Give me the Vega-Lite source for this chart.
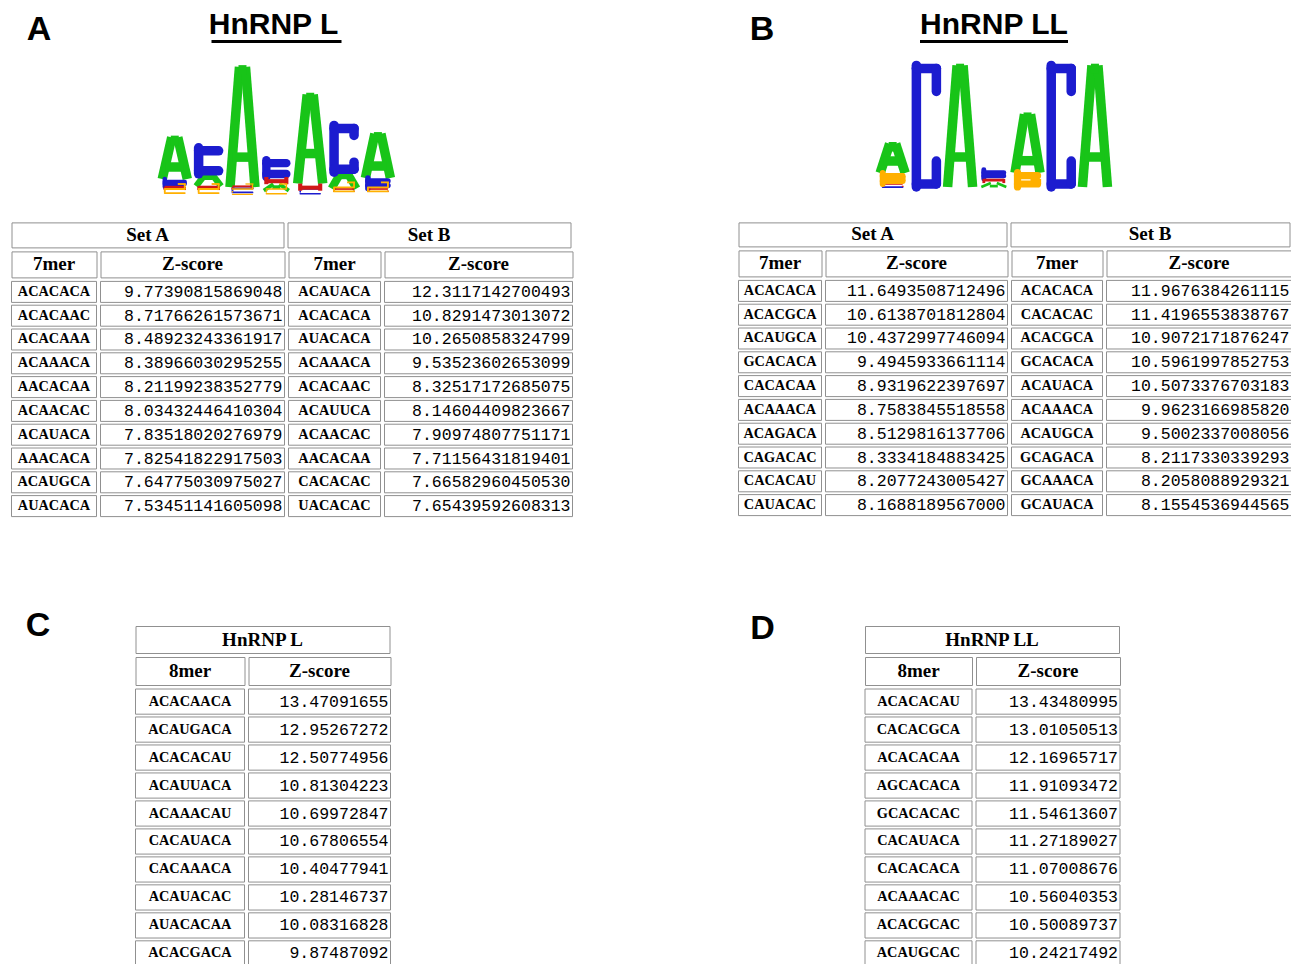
{
"$schema": "https://vega.github.io/schema/vega-lite/v6.json",
"padding": {"left": 10.5, "top": 0, "right": 0, "bottom": 0},
"background": "white",
"config": {"view": {"stroke": null}},
"datasets": {
"logo": [
{"protein":"L","pos":1,"letter":"G","bits":0.03},{"protein":"L","pos":1,"letter":"U","bits":0.05},{"protein":"L","pos":1,"letter":"C","bits":0.12},{"protein":"L","pos":1,"letter":"A","bits":0.64},
{"protein":"L","pos":2,"letter":"G","bits":0.03},{"protein":"L","pos":2,"letter":"U","bits":0.06},{"protein":"L","pos":2,"letter":"A","bits":0.19},{"protein":"L","pos":2,"letter":"C","bits":0.40},
{"protein":"L","pos":3,"letter":"G","bits":0.01},{"protein":"L","pos":3,"letter":"C","bits":0.03},{"protein":"L","pos":3,"letter":"U","bits":0.035},{"protein":"L","pos":3,"letter":"A","bits":1.85},
{"protein":"L","pos":4,"letter":"G","bits":0.02},{"protein":"L","pos":4,"letter":"A","bits":0.10},{"protein":"L","pos":4,"letter":"U","bits":0.11},{"protein":"L","pos":4,"letter":"C","bits":0.26},
{"protein":"L","pos":5,"letter":"C","bits":0.02},{"protein":"L","pos":5,"letter":"U","bits":0.11},{"protein":"L","pos":5,"letter":"A","bits":1.37},
{"protein":"L","pos":6,"letter":"U","bits":0.025},{"protein":"L","pos":6,"letter":"G","bits":0.03},{"protein":"L","pos":6,"letter":"A","bits":0.25},{"protein":"L","pos":6,"letter":"C","bits":0.72},
{"protein":"L","pos":7,"letter":"U","bits":0.025},{"protein":"L","pos":7,"letter":"G","bits":0.03},{"protein":"L","pos":7,"letter":"C","bits":0.16},{"protein":"L","pos":7,"letter":"A","bits":0.68},
{"protein":"LL","pos":1,"letter":"U","bits":0.02},{"protein":"LL","pos":1,"letter":"C","bits":0.025},{"protein":"LL","pos":1,"letter":"G","bits":0.17},{"protein":"LL","pos":1,"letter":"A","bits":0.45},
{"protein":"LL","pos":2,"letter":"C","bits":1.87},
{"protein":"LL","pos":3,"letter":"A","bits":1.87},
{"protein":"LL","pos":4,"letter":"A","bits":0.06},{"protein":"LL","pos":4,"letter":"U","bits":0.065},{"protein":"LL","pos":4,"letter":"C","bits":0.14},
{"protein":"LL","pos":5,"letter":"G","bits":0.22},{"protein":"LL","pos":5,"letter":"A","bits":0.9},
{"protein":"LL","pos":6,"letter":"C","bits":1.87},
{"protein":"LL","pos":7,"letter":"A","bits":1.87}
],
"k7": [
{"protein":"L","set":"A","rank":1,"kmer":"ACACACA","z":"9.77390815869048"},
{"protein":"L","set":"A","rank":2,"kmer":"ACACAAC","z":"8.71766261573671"},
{"protein":"L","set":"A","rank":3,"kmer":"ACACAAA","z":"8.48923243361917"},
{"protein":"L","set":"A","rank":4,"kmer":"ACAAACA","z":"8.38966030295255"},
{"protein":"L","set":"A","rank":5,"kmer":"AACACAA","z":"8.21199238352779"},
{"protein":"L","set":"A","rank":6,"kmer":"ACAACAC","z":"8.03432446410304"},
{"protein":"L","set":"A","rank":7,"kmer":"ACAUACA","z":"7.83518020276979"},
{"protein":"L","set":"A","rank":8,"kmer":"AAACACA","z":"7.82541822917503"},
{"protein":"L","set":"A","rank":9,"kmer":"ACAUGCA","z":"7.64775030975027"},
{"protein":"L","set":"A","rank":10,"kmer":"AUACACA","z":"7.53451141605098"},
{"protein":"L","set":"B","rank":1,"kmer":"ACAUACA","z":"12.3117142700493"},
{"protein":"L","set":"B","rank":2,"kmer":"ACACACA","z":"10.8291473013072"},
{"protein":"L","set":"B","rank":3,"kmer":"AUACACA","z":"10.2650858324799"},
{"protein":"L","set":"B","rank":4,"kmer":"ACAAACA","z":"9.53523602653099"},
{"protein":"L","set":"B","rank":5,"kmer":"ACACAAC","z":"8.32517172685075"},
{"protein":"L","set":"B","rank":6,"kmer":"ACAUUCA","z":"8.14604409823667"},
{"protein":"L","set":"B","rank":7,"kmer":"ACAACAC","z":"7.90974807751171"},
{"protein":"L","set":"B","rank":8,"kmer":"AACACAA","z":"7.71156431819401"},
{"protein":"L","set":"B","rank":9,"kmer":"CACACAC","z":"7.66582960450530"},
{"protein":"L","set":"B","rank":10,"kmer":"UACACAC","z":"7.65439592608313"},
{"protein":"LL","set":"A","rank":1,"kmer":"ACACACA","z":"11.6493508712496"},
{"protein":"LL","set":"A","rank":2,"kmer":"ACACGCA","z":"10.6138701812804"},
{"protein":"LL","set":"A","rank":3,"kmer":"ACAUGCA","z":"10.4372997746094"},
{"protein":"LL","set":"A","rank":4,"kmer":"GCACACA","z":"9.4945933661114"},
{"protein":"LL","set":"A","rank":5,"kmer":"CACACAA","z":"8.9319622397697"},
{"protein":"LL","set":"A","rank":6,"kmer":"ACAAACA","z":"8.7583845518558"},
{"protein":"LL","set":"A","rank":7,"kmer":"ACAGACA","z":"8.5129816137706"},
{"protein":"LL","set":"A","rank":8,"kmer":"CAGACAC","z":"8.3334184883425"},
{"protein":"LL","set":"A","rank":9,"kmer":"CACACAU","z":"8.2077243005427"},
{"protein":"LL","set":"A","rank":10,"kmer":"CAUACAC","z":"8.1688189567000"},
{"protein":"LL","set":"B","rank":1,"kmer":"ACACACA","z":"11.9676384261115"},
{"protein":"LL","set":"B","rank":2,"kmer":"CACACAC","z":"11.4196553838767"},
{"protein":"LL","set":"B","rank":3,"kmer":"ACACGCA","z":"10.9072171876247"},
{"protein":"LL","set":"B","rank":4,"kmer":"GCACACA","z":"10.5961997852753"},
{"protein":"LL","set":"B","rank":5,"kmer":"ACAUACA","z":"10.5073376703183"},
{"protein":"LL","set":"B","rank":6,"kmer":"ACAAACA","z":"9.9623166985820"},
{"protein":"LL","set":"B","rank":7,"kmer":"ACAUGCA","z":"9.5002337008056"},
{"protein":"LL","set":"B","rank":8,"kmer":"GCAGACA","z":"8.2117330339293"},
{"protein":"LL","set":"B","rank":9,"kmer":"GCAAACA","z":"8.2058088929321"},
{"protein":"LL","set":"B","rank":10,"kmer":"GCAUACA","z":"8.1554536944565"}
],
"k8": [
{"protein":"L","rank":1,"kmer":"ACACAACA","z":"13.47091655"},
{"protein":"L","rank":2,"kmer":"ACAUGACA","z":"12.95267272"},
{"protein":"L","rank":3,"kmer":"ACACACAU","z":"12.50774956"},
{"protein":"L","rank":4,"kmer":"ACAUUACA","z":"10.81304223"},
{"protein":"L","rank":5,"kmer":"ACAAACAU","z":"10.69972847"},
{"protein":"L","rank":6,"kmer":"CACAUACA","z":"10.67806554"},
{"protein":"L","rank":7,"kmer":"CACAAACA","z":"10.40477941"},
{"protein":"L","rank":8,"kmer":"ACAUACAC","z":"10.28146737"},
{"protein":"L","rank":9,"kmer":"AUACACAA","z":"10.08316828"},
{"protein":"L","rank":10,"kmer":"ACACGACA","z":"9.87487092"},
{"protein":"LL","rank":1,"kmer":"ACACACAU","z":"13.43480995"},
{"protein":"LL","rank":2,"kmer":"CACACGCA","z":"13.01050513"},
{"protein":"LL","rank":3,"kmer":"ACACACAA","z":"12.16965717"},
{"protein":"LL","rank":4,"kmer":"AGCACACA","z":"11.91093472"},
{"protein":"LL","rank":5,"kmer":"GCACACAC","z":"11.54613607"},
{"protein":"LL","rank":6,"kmer":"CACAUACA","z":"11.27189027"},
{"protein":"LL","rank":7,"kmer":"CACACACA","z":"11.07008676"},
{"protein":"LL","rank":8,"kmer":"ACAAACAC","z":"10.56040353"},
{"protein":"LL","rank":9,"kmer":"ACACGCAC","z":"10.50089737"},
{"protein":"LL","rank":10,"kmer":"ACAUGCAC","z":"10.24217492"}
]
},
"vconcat": [
{"hconcat": [
 {"vconcat": [
  {"hconcat": [
   {"width": 55, "height": 47, "data": {"values": [{"panel": "A"}]}, "mark": {"type": "text", "font": "Liberation Sans", "fontWeight": "bold", "fontSize": 34, "baseline": "bottom", "color": "#000"}, "encoding": {"text": {"field": "panel"}, "y": {"value": "height"}}},
   {"vconcat": [
    {"vconcat": [
     {"width": 237, "height": 40, "data": {"values": [{"name": "HnRNP L"}]}, "mark": {"type": "text", "font": "Liberation Sans", "fontWeight": "bold", "fontSize": 30, "baseline": "bottom", "color": "#000", "dx": -3}, "encoding": {"text": {"field": "name"}, "y": {"value": "height"}}},
     {"width": 130, "height": 3, "view": {"fill": "#000", "stroke": null}, "data": {"values": []}, "mark": "rect", "encoding": {}}
    ], "spacing": 0, "center": true},
    {"width": 237, "height": 132.6, "data": {"name": "logo"},
     "transform": [{"filter": "datum.protein === 'L'"}, {"stack": "bits", "groupby": ["pos"], "sort": [{"field": "bits", "order": "ascending"}], "as": ["b0", "b1"]}],
     "encoding": {"x": {"field": "pos", "type": "quantitative", "scale": {"domain": [0.5, 7.5]}, "axis": null},
                  "strokeWidth": {"field": "bits", "type": "quantitative", "scale": {"domain": [0, 0.3], "range": [1, 9.5], "clamp": true}, "legend": null}},
     "layer": [
      {"transform": [{"filter": "datum.letter === 'A'"}], "mark": {"type": "rule", "color": "#18c418", "xOffset": -12.5, "x2Offset": -3}, "encoding": {"x2": {"field": "pos"}, "y": {"field": "b0", "type": "quantitative", "scale": {"domain": [-0.04, 2]}, "axis": null}, "y2": {"field": "b1"}}},
      {"transform": [{"filter": "datum.letter === 'A'"}], "mark": {"type": "rule", "color": "#18c418", "xOffset": 3, "x2Offset": 12.5}, "encoding": {"x2": {"field": "pos"}, "y": {"field": "b1", "type": "quantitative", "scale": {"domain": [-0.04, 2]}, "axis": null}, "y2": {"field": "b0"}}},
      {"transform": [{"filter": "datum.letter === 'A'"}], "mark": {"type": "rule", "color": "#18c418", "xOffset": -4, "x2Offset": 4, "yOffset": 3}, "encoding": {"x2": {"field": "pos"}, "y": {"field": "b1", "type": "quantitative", "scale": {"domain": [-0.04, 2]}, "axis": null}}},
      {"transform": [{"filter": "datum.letter === 'A' && datum.bits > 0.3 && datum.bits <= 1"}], "mark": {"type": "rule", "color": "#18c418", "xOffset": -9, "x2Offset": 9, "yOffset": -12}, "encoding": {"x2": {"field": "pos"}, "y": {"field": "b0", "type": "quantitative", "scale": {"domain": [-0.04, 2]}, "axis": null}}},
      {"transform": [{"filter": "datum.letter === 'A' && datum.bits > 1"}], "mark": {"type": "rule", "color": "#18c418", "xOffset": -10, "x2Offset": 10, "yOffset": -30}, "encoding": {"x2": {"field": "pos"}, "y": {"field": "b0", "type": "quantitative", "scale": {"domain": [-0.04, 2]}, "axis": null}}},
      {"transform": [{"filter": "datum.letter === 'C'"}], "mark": {"type": "rule", "color": "#1c1ccf", "xOffset": -10, "strokeCap": "round"}, "encoding": {"y": {"field": "b0", "type": "quantitative", "scale": {"domain": [-0.04, 2]}, "axis": null}, "y2": {"field": "b1"}}},
      {"transform": [{"filter": "datum.letter === 'C'"}], "mark": {"type": "rule", "color": "#1c1ccf", "xOffset": -10, "x2Offset": 10, "yOffset": 3, "strokeCap": "round"}, "encoding": {"x2": {"field": "pos"}, "y": {"field": "b1", "type": "quantitative", "scale": {"domain": [-0.04, 2]}, "axis": null}}},
      {"transform": [{"filter": "datum.letter === 'C'"}], "mark": {"type": "rule", "color": "#1c1ccf", "xOffset": -10, "x2Offset": 10, "yOffset": -3, "strokeCap": "round"}, "encoding": {"x2": {"field": "pos"}, "y": {"field": "b0", "type": "quantitative", "scale": {"domain": [-0.04, 2]}, "axis": null}}},
      {"transform": [{"filter": "datum.letter === 'C' && datum.bits > 0.6 && datum.bits <= 1"}], "mark": {"type": "rule", "color": "#1c1ccf", "xOffset": 10, "yOffset": 3, "y2Offset": 10, "strokeCap": "round"}, "encoding": {"y": {"field": "b1", "type": "quantitative", "scale": {"domain": [-0.04, 2]}, "axis": null}, "y2": {"field": "b1"}}},
      {"transform": [{"filter": "datum.letter === 'C' && datum.bits > 0.6 && datum.bits <= 1"}], "mark": {"type": "rule", "color": "#1c1ccf", "xOffset": 10, "yOffset": -3, "y2Offset": -10, "strokeCap": "round"}, "encoding": {"y": {"field": "b0", "type": "quantitative", "scale": {"domain": [-0.04, 2]}, "axis": null}, "y2": {"field": "b0"}}},
      {"transform": [{"filter": "datum.letter === 'C' && datum.bits > 1"}], "mark": {"type": "rule", "color": "#1c1ccf", "xOffset": 10, "yOffset": 3, "y2Offset": 26, "strokeCap": "round"}, "encoding": {"y": {"field": "b1", "type": "quantitative", "scale": {"domain": [-0.04, 2]}, "axis": null}, "y2": {"field": "b1"}}},
      {"transform": [{"filter": "datum.letter === 'C' && datum.bits > 1"}], "mark": {"type": "rule", "color": "#1c1ccf", "xOffset": 10, "yOffset": -3, "y2Offset": -26, "strokeCap": "round"}, "encoding": {"y": {"field": "b0", "type": "quantitative", "scale": {"domain": [-0.04, 2]}, "axis": null}, "y2": {"field": "b0"}}},
      {"transform": [{"filter": "datum.letter === 'U'"}], "mark": {"type": "rule", "color": "#d01818", "xOffset": -10}, "encoding": {"y": {"field": "b0", "type": "quantitative", "scale": {"domain": [-0.04, 2]}, "axis": null}, "y2": {"field": "b1"}}},
      {"transform": [{"filter": "datum.letter === 'U'"}], "mark": {"type": "rule", "color": "#d01818", "xOffset": 10}, "encoding": {"y": {"field": "b0", "type": "quantitative", "scale": {"domain": [-0.04, 2]}, "axis": null}, "y2": {"field": "b1"}}},
      {"transform": [{"filter": "datum.letter === 'U'"}], "mark": {"type": "rule", "color": "#d01818", "xOffset": -10, "x2Offset": 10, "yOffset": -3}, "encoding": {"x2": {"field": "pos"}, "y": {"field": "b0", "type": "quantitative", "scale": {"domain": [-0.04, 2]}, "axis": null}}},
      {"transform": [{"filter": "datum.letter === 'G'"}], "mark": {"type": "rule", "color": "#ffb000", "xOffset": -10, "strokeCap": "round"}, "encoding": {"y": {"field": "b0", "type": "quantitative", "scale": {"domain": [-0.04, 2]}, "axis": null}, "y2": {"field": "b1"}}},
      {"transform": [{"filter": "datum.letter === 'G'"}], "mark": {"type": "rule", "color": "#ffb000", "xOffset": -10, "x2Offset": 10, "yOffset": 3, "strokeCap": "round"}, "encoding": {"x2": {"field": "pos"}, "y": {"field": "b1", "type": "quantitative", "scale": {"domain": [-0.04, 2]}, "axis": null}}},
      {"transform": [{"filter": "datum.letter === 'G'"}], "mark": {"type": "rule", "color": "#ffb000", "xOffset": -10, "x2Offset": 10, "yOffset": -3, "strokeCap": "round"}, "encoding": {"x2": {"field": "pos"}, "y": {"field": "b0", "type": "quantitative", "scale": {"domain": [-0.04, 2]}, "axis": null}}},
      {"transform": [{"filter": "datum.letter === 'G'"}], "mark": {"type": "rule", "color": "#ffb000", "xOffset": 10, "yOffset": -3, "y2Offset": -8}, "encoding": {"y": {"field": "b0", "type": "quantitative", "scale": {"domain": [-0.04, 2]}, "axis": null}, "y2": {"field": "b0"}}},
      {"transform": [{"filter": "datum.letter === 'G'"}], "mark": {"type": "rule", "color": "#ffb000", "xOffset": 3, "x2Offset": 11, "yOffset": -8}, "encoding": {"x2": {"field": "pos"}, "y": {"field": "b0", "type": "quantitative", "scale": {"domain": [-0.04, 2]}, "axis": null}}}
     ]}
   ], "spacing": 19, "center": true}
  ], "spacing": 91},
  {"vconcat": [
   {"hconcat": [
    {"width": 272, "height": 25, "view": {"fill": "#fff", "stroke": "#909090"}, "data": {"values": [{"h": "Set A"}]}, "mark": {"type": "text", "font": "Liberation Serif", "fontWeight": "bold", "fontSize": 19, "color": "#000"}, "encoding": {"text": {"field": "h"}}},
    {"width": 283, "height": 25, "view": {"fill": "#fff", "stroke": "#909090"}, "data": {"values": [{"h": "Set B"}]}, "mark": {"type": "text", "font": "Liberation Serif", "fontWeight": "bold", "fontSize": 19, "color": "#000"}, "encoding": {"text": {"field": "h"}}}
   ], "spacing": 2},
   {"hconcat": [
    {"width": 85, "height": 26, "view": {"fill": "#fff", "stroke": "#909090"}, "data": {"values": [{"h": "7mer"}]}, "mark": {"type": "text", "font": "Liberation Serif", "fontWeight": "bold", "fontSize": 19, "color": "#000"}, "encoding": {"text": {"field": "h"}}},
    {"width": 184, "height": 26, "view": {"fill": "#fff", "stroke": "#909090"}, "data": {"values": [{"h": "Z-score"}]}, "mark": {"type": "text", "font": "Liberation Serif", "fontWeight": "bold", "fontSize": 19, "color": "#000"}, "encoding": {"text": {"field": "h"}}},
    {"width": 92, "height": 26, "view": {"fill": "#fff", "stroke": "#909090"}, "data": {"values": [{"h": "7mer"}]}, "mark": {"type": "text", "font": "Liberation Serif", "fontWeight": "bold", "fontSize": 19, "color": "#000"}, "encoding": {"text": {"field": "h"}}},
    {"width": 188, "height": 26, "view": {"fill": "#fff", "stroke": "#909090"}, "data": {"values": [{"h": "Z-score"}]}, "mark": {"type": "text", "font": "Liberation Serif", "fontWeight": "bold", "fontSize": 19, "color": "#000"}, "encoding": {"text": {"field": "h"}}}
   ], "spacing": 2},
   {"hconcat": [
    {"width": 85, "height": 235.2, "data": {"name": "k7"}, "transform": [{"filter": "datum.protein === 'L' && datum.set === 'A'"}],
     "encoding": {"y": {"field": "rank", "type": "ordinal", "axis": null, "scale": {"type": "band", "paddingInner": 0.118, "paddingOuter": 0}}},
     "layer": [{"mark": {"type": "rect", "fill": "#fff", "stroke": "#909090", "strokeWidth": 1}},
               {"mark": {"type": "text", "font": "Liberation Serif", "fontWeight": "bold", "fontSize": 14.3, "color": "#000"}, "encoding": {"text": {"field": "kmer"}}}]},
    {"width": 184, "height": 235.2, "data": {"name": "k7"}, "transform": [{"filter": "datum.protein === 'L' && datum.set === 'A'"}],
     "encoding": {"y": {"field": "rank", "type": "ordinal", "axis": null, "scale": {"type": "band", "paddingInner": 0.118, "paddingOuter": 0}}},
     "layer": [{"mark": {"type": "rect", "fill": "#fff", "stroke": "#909090", "strokeWidth": 1}},
               {"mark": {"type": "text", "font": "Liberation Mono", "fontSize": 16.5, "align": "right", "dx": -2, "color": "#000"}, "encoding": {"text": {"field": "z"}, "x": {"value": "width"}}}]},
    {"width": 92, "height": 235.2, "data": {"name": "k7"}, "transform": [{"filter": "datum.protein === 'L' && datum.set === 'B'"}],
     "encoding": {"y": {"field": "rank", "type": "ordinal", "axis": null, "scale": {"type": "band", "paddingInner": 0.118, "paddingOuter": 0}}},
     "layer": [{"mark": {"type": "rect", "fill": "#fff", "stroke": "#909090", "strokeWidth": 1}},
               {"mark": {"type": "text", "font": "Liberation Serif", "fontWeight": "bold", "fontSize": 14.3, "color": "#000"}, "encoding": {"text": {"field": "kmer"}}}]},
    {"width": 188, "height": 235.2, "data": {"name": "k7"}, "transform": [{"filter": "datum.protein === 'L' && datum.set === 'B'"}],
     "encoding": {"y": {"field": "rank", "type": "ordinal", "axis": null, "scale": {"type": "band", "paddingInner": 0.118, "paddingOuter": 0}}},
     "layer": [{"mark": {"type": "rect", "fill": "#fff", "stroke": "#909090", "strokeWidth": 1}},
               {"mark": {"type": "text", "font": "Liberation Mono", "fontSize": 16.5, "align": "right", "dx": -2, "color": "#000"}, "encoding": {"text": {"field": "z"}, "x": {"value": "width"}}}]}
   ], "spacing": 2}
  ], "spacing": 2}
 ], "spacing": 26.4},
 {"vconcat": [
  {"hconcat": [
   {"width": 47, "height": 47, "data": {"values": [{"panel": "B"}]}, "mark": {"type": "text", "font": "Liberation Sans", "fontWeight": "bold", "fontSize": 34, "baseline": "bottom", "color": "#000"}, "encoding": {"text": {"field": "panel"}, "y": {"value": "height"}}},
   {"vconcat": [
    {"vconcat": [
     {"width": 236, "height": 40, "data": {"values": [{"name": "HnRNP LL"}]}, "mark": {"type": "text", "font": "Liberation Sans", "fontWeight": "bold", "fontSize": 30, "baseline": "bottom", "color": "#000"}, "encoding": {"text": {"field": "name"}, "y": {"value": "height"}}},
     {"width": 148, "height": 3, "view": {"fill": "#000", "stroke": null}, "data": {"values": []}, "mark": "rect", "encoding": {}}
    ], "spacing": 0, "center": true},
    {"width": 236, "height": 132.6, "data": {"name": "logo"},
     "transform": [{"filter": "datum.protein === 'LL'"}, {"stack": "bits", "groupby": ["pos"], "sort": [{"field": "bits", "order": "ascending"}], "as": ["b0", "b1"]}],
     "encoding": {"x": {"field": "pos", "type": "quantitative", "scale": {"domain": [0.5, 7.5]}, "axis": null},
                  "strokeWidth": {"field": "bits", "type": "quantitative", "scale": {"domain": [0, 0.3], "range": [1, 9.5], "clamp": true}, "legend": null}},
     "layer": [
      {"transform": [{"filter": "datum.letter === 'A'"}], "mark": {"type": "rule", "color": "#18c418", "xOffset": -12.5, "x2Offset": -3}, "encoding": {"x2": {"field": "pos"}, "y": {"field": "b0", "type": "quantitative", "scale": {"domain": [-0.04, 2]}, "axis": null}, "y2": {"field": "b1"}}},
      {"transform": [{"filter": "datum.letter === 'A'"}], "mark": {"type": "rule", "color": "#18c418", "xOffset": 3, "x2Offset": 12.5}, "encoding": {"x2": {"field": "pos"}, "y": {"field": "b1", "type": "quantitative", "scale": {"domain": [-0.04, 2]}, "axis": null}, "y2": {"field": "b0"}}},
      {"transform": [{"filter": "datum.letter === 'A'"}], "mark": {"type": "rule", "color": "#18c418", "xOffset": -4, "x2Offset": 4, "yOffset": 3}, "encoding": {"x2": {"field": "pos"}, "y": {"field": "b1", "type": "quantitative", "scale": {"domain": [-0.04, 2]}, "axis": null}}},
      {"transform": [{"filter": "datum.letter === 'A' && datum.bits > 0.3 && datum.bits <= 1"}], "mark": {"type": "rule", "color": "#18c418", "xOffset": -9, "x2Offset": 9, "yOffset": -12}, "encoding": {"x2": {"field": "pos"}, "y": {"field": "b0", "type": "quantitative", "scale": {"domain": [-0.04, 2]}, "axis": null}}},
      {"transform": [{"filter": "datum.letter === 'A' && datum.bits > 1"}], "mark": {"type": "rule", "color": "#18c418", "xOffset": -10, "x2Offset": 10, "yOffset": -30}, "encoding": {"x2": {"field": "pos"}, "y": {"field": "b0", "type": "quantitative", "scale": {"domain": [-0.04, 2]}, "axis": null}}},
      {"transform": [{"filter": "datum.letter === 'C'"}], "mark": {"type": "rule", "color": "#1c1ccf", "xOffset": -10, "strokeCap": "round"}, "encoding": {"y": {"field": "b0", "type": "quantitative", "scale": {"domain": [-0.04, 2]}, "axis": null}, "y2": {"field": "b1"}}},
      {"transform": [{"filter": "datum.letter === 'C'"}], "mark": {"type": "rule", "color": "#1c1ccf", "xOffset": -10, "x2Offset": 10, "yOffset": 3, "strokeCap": "round"}, "encoding": {"x2": {"field": "pos"}, "y": {"field": "b1", "type": "quantitative", "scale": {"domain": [-0.04, 2]}, "axis": null}}},
      {"transform": [{"filter": "datum.letter === 'C'"}], "mark": {"type": "rule", "color": "#1c1ccf", "xOffset": -10, "x2Offset": 10, "yOffset": -3, "strokeCap": "round"}, "encoding": {"x2": {"field": "pos"}, "y": {"field": "b0", "type": "quantitative", "scale": {"domain": [-0.04, 2]}, "axis": null}}},
      {"transform": [{"filter": "datum.letter === 'C' && datum.bits > 0.6 && datum.bits <= 1"}], "mark": {"type": "rule", "color": "#1c1ccf", "xOffset": 10, "yOffset": 3, "y2Offset": 10, "strokeCap": "round"}, "encoding": {"y": {"field": "b1", "type": "quantitative", "scale": {"domain": [-0.04, 2]}, "axis": null}, "y2": {"field": "b1"}}},
      {"transform": [{"filter": "datum.letter === 'C' && datum.bits > 0.6 && datum.bits <= 1"}], "mark": {"type": "rule", "color": "#1c1ccf", "xOffset": 10, "yOffset": -3, "y2Offset": -10, "strokeCap": "round"}, "encoding": {"y": {"field": "b0", "type": "quantitative", "scale": {"domain": [-0.04, 2]}, "axis": null}, "y2": {"field": "b0"}}},
      {"transform": [{"filter": "datum.letter === 'C' && datum.bits > 1"}], "mark": {"type": "rule", "color": "#1c1ccf", "xOffset": 10, "yOffset": 3, "y2Offset": 26, "strokeCap": "round"}, "encoding": {"y": {"field": "b1", "type": "quantitative", "scale": {"domain": [-0.04, 2]}, "axis": null}, "y2": {"field": "b1"}}},
      {"transform": [{"filter": "datum.letter === 'C' && datum.bits > 1"}], "mark": {"type": "rule", "color": "#1c1ccf", "xOffset": 10, "yOffset": -3, "y2Offset": -26, "strokeCap": "round"}, "encoding": {"y": {"field": "b0", "type": "quantitative", "scale": {"domain": [-0.04, 2]}, "axis": null}, "y2": {"field": "b0"}}},
      {"transform": [{"filter": "datum.letter === 'U'"}], "mark": {"type": "rule", "color": "#d01818", "xOffset": -10}, "encoding": {"y": {"field": "b0", "type": "quantitative", "scale": {"domain": [-0.04, 2]}, "axis": null}, "y2": {"field": "b1"}}},
      {"transform": [{"filter": "datum.letter === 'U'"}], "mark": {"type": "rule", "color": "#d01818", "xOffset": 10}, "encoding": {"y": {"field": "b0", "type": "quantitative", "scale": {"domain": [-0.04, 2]}, "axis": null}, "y2": {"field": "b1"}}},
      {"transform": [{"filter": "datum.letter === 'U'"}], "mark": {"type": "rule", "color": "#d01818", "xOffset": -10, "x2Offset": 10, "yOffset": -3}, "encoding": {"x2": {"field": "pos"}, "y": {"field": "b0", "type": "quantitative", "scale": {"domain": [-0.04, 2]}, "axis": null}}},
      {"transform": [{"filter": "datum.letter === 'G'"}], "mark": {"type": "rule", "color": "#ffb000", "xOffset": -10, "strokeCap": "round"}, "encoding": {"y": {"field": "b0", "type": "quantitative", "scale": {"domain": [-0.04, 2]}, "axis": null}, "y2": {"field": "b1"}}},
      {"transform": [{"filter": "datum.letter === 'G'"}], "mark": {"type": "rule", "color": "#ffb000", "xOffset": -10, "x2Offset": 10, "yOffset": 3, "strokeCap": "round"}, "encoding": {"x2": {"field": "pos"}, "y": {"field": "b1", "type": "quantitative", "scale": {"domain": [-0.04, 2]}, "axis": null}}},
      {"transform": [{"filter": "datum.letter === 'G'"}], "mark": {"type": "rule", "color": "#ffb000", "xOffset": -10, "x2Offset": 10, "yOffset": -3, "strokeCap": "round"}, "encoding": {"x2": {"field": "pos"}, "y": {"field": "b0", "type": "quantitative", "scale": {"domain": [-0.04, 2]}, "axis": null}}},
      {"transform": [{"filter": "datum.letter === 'G'"}], "mark": {"type": "rule", "color": "#ffb000", "xOffset": 10, "yOffset": -3, "y2Offset": -8}, "encoding": {"y": {"field": "b0", "type": "quantitative", "scale": {"domain": [-0.04, 2]}, "axis": null}, "y2": {"field": "b0"}}},
      {"transform": [{"filter": "datum.letter === 'G'"}], "mark": {"type": "rule", "color": "#ffb000", "xOffset": 3, "x2Offset": 11, "yOffset": -8}, "encoding": {"x2": {"field": "pos"}, "y": {"field": "b0", "type": "quantitative", "scale": {"domain": [-0.04, 2]}, "axis": null}}}
     ]}
   ], "spacing": 14, "center": true}
  ], "spacing": 89},
  {"vconcat": [
   {"hconcat": [
    {"width": 268, "height": 24, "view": {"fill": "#fff", "stroke": "#909090"}, "data": {"values": [{"h": "Set A"}]}, "mark": {"type": "text", "font": "Liberation Serif", "fontWeight": "bold", "fontSize": 19, "color": "#000"}, "encoding": {"text": {"field": "h"}}},
    {"width": 279, "height": 24, "view": {"fill": "#fff", "stroke": "#909090"}, "data": {"values": [{"h": "Set B"}]}, "mark": {"type": "text", "font": "Liberation Serif", "fontWeight": "bold", "fontSize": 19, "color": "#000"}, "encoding": {"text": {"field": "h"}}}
   ], "spacing": 2},
   {"hconcat": [
    {"width": 83, "height": 26, "view": {"fill": "#fff", "stroke": "#909090"}, "data": {"values": [{"h": "7mer"}]}, "mark": {"type": "text", "font": "Liberation Serif", "fontWeight": "bold", "fontSize": 19, "color": "#000"}, "encoding": {"text": {"field": "h"}}},
    {"width": 182, "height": 26, "view": {"fill": "#fff", "stroke": "#909090"}, "data": {"values": [{"h": "Z-score"}]}, "mark": {"type": "text", "font": "Liberation Serif", "fontWeight": "bold", "fontSize": 19, "color": "#000"}, "encoding": {"text": {"field": "h"}}},
    {"width": 91, "height": 26, "view": {"fill": "#fff", "stroke": "#909090"}, "data": {"values": [{"h": "7mer"}]}, "mark": {"type": "text", "font": "Liberation Serif", "fontWeight": "bold", "fontSize": 19, "color": "#000"}, "encoding": {"text": {"field": "h"}}},
    {"width": 185, "height": 26, "view": {"fill": "#fff", "stroke": "#909090"}, "data": {"values": [{"h": "Z-score"}]}, "mark": {"type": "text", "font": "Liberation Serif", "fontWeight": "bold", "fontSize": 19, "color": "#000"}, "encoding": {"text": {"field": "h"}}}
   ], "spacing": 2},
   {"hconcat": [
    {"width": 83, "height": 235.2, "data": {"name": "k7"}, "transform": [{"filter": "datum.protein === 'LL' && datum.set === 'A'"}],
     "encoding": {"y": {"field": "rank", "type": "ordinal", "axis": null, "scale": {"type": "band", "paddingInner": 0.118, "paddingOuter": 0}}},
     "layer": [{"mark": {"type": "rect", "fill": "#fff", "stroke": "#909090", "strokeWidth": 1}},
               {"mark": {"type": "text", "font": "Liberation Serif", "fontWeight": "bold", "fontSize": 14.3, "color": "#000"}, "encoding": {"text": {"field": "kmer"}}}]},
    {"width": 182, "height": 235.2, "data": {"name": "k7"}, "transform": [{"filter": "datum.protein === 'LL' && datum.set === 'A'"}],
     "encoding": {"y": {"field": "rank", "type": "ordinal", "axis": null, "scale": {"type": "band", "paddingInner": 0.118, "paddingOuter": 0}}},
     "layer": [{"mark": {"type": "rect", "fill": "#fff", "stroke": "#909090", "strokeWidth": 1}},
               {"mark": {"type": "text", "font": "Liberation Mono", "fontSize": 16.5, "align": "right", "dx": -2, "color": "#000"}, "encoding": {"text": {"field": "z"}, "x": {"value": "width"}}}]},
    {"width": 91, "height": 235.2, "data": {"name": "k7"}, "transform": [{"filter": "datum.protein === 'LL' && datum.set === 'B'"}],
     "encoding": {"y": {"field": "rank", "type": "ordinal", "axis": null, "scale": {"type": "band", "paddingInner": 0.118, "paddingOuter": 0}}},
     "layer": [{"mark": {"type": "rect", "fill": "#fff", "stroke": "#909090", "strokeWidth": 1}},
               {"mark": {"type": "text", "font": "Liberation Serif", "fontWeight": "bold", "fontSize": 14.3, "color": "#000"}, "encoding": {"text": {"field": "kmer"}}}]},
    {"width": 185, "height": 235.2, "data": {"name": "k7"}, "transform": [{"filter": "datum.protein === 'LL' && datum.set === 'B'"}],
     "encoding": {"y": {"field": "rank", "type": "ordinal", "axis": null, "scale": {"type": "band", "paddingInner": 0.118, "paddingOuter": 0}}},
     "layer": [{"mark": {"type": "rect", "fill": "#fff", "stroke": "#909090", "strokeWidth": 1}},
               {"mark": {"type": "text", "font": "Liberation Mono", "fontSize": 16.5, "align": "right", "dx": -2, "color": "#000"}, "encoding": {"text": {"field": "z"}, "x": {"value": "width"}}}]}
   ], "spacing": 2}
  ], "spacing": 2}
 ], "spacing": 29.4}
], "spacing": 164},
{"hconcat": [
 {"hconcat": [
  {"width": 53, "height": 36, "data": {"values": [{"panel": "C"}]}, "mark": {"type": "text", "font": "Liberation Sans", "fontWeight": "bold", "fontSize": 34, "baseline": "bottom", "color": "#000"}, "encoding": {"text": {"field": "panel"}, "y": {"value": "height"}}},
  {"vconcat": [
   {"width": 254, "height": 15.5, "data": {"values": []}, "mark": "rect", "encoding": {}},
   {"width": 254, "height": 27, "view": {"fill": "#fff", "stroke": "#909090"}, "data": {"values": [{"h": "HnRNP L"}]}, "mark": {"type": "text", "font": "Liberation Serif", "fontWeight": "bold", "fontSize": 19, "color": "#000"}, "encoding": {"text": {"field": "h"}}},
   {"hconcat": [
    {"width": 109, "height": 28, "view": {"fill": "#fff", "stroke": "#909090"}, "data": {"values": [{"h": "8mer"}]}, "mark": {"type": "text", "font": "Liberation Serif", "fontWeight": "bold", "fontSize": 19, "color": "#000"}, "encoding": {"text": {"field": "h"}}},
    {"width": 142, "height": 28, "view": {"fill": "#fff", "stroke": "#909090"}, "data": {"values": [{"h": "Z-score"}]}, "mark": {"type": "text", "font": "Liberation Serif", "fontWeight": "bold", "fontSize": 19, "color": "#000"}, "encoding": {"text": {"field": "h"}}}
   ], "spacing": 2},
   {"hconcat": [
    {"width": 109, "height": 277, "data": {"name": "k8"}, "transform": [{"filter": "datum.protein === 'L'"}],
     "encoding": {"y": {"field": "rank", "type": "ordinal", "axis": null, "scale": {"type": "band", "paddingInner": 0.1, "paddingOuter": 0}}},
     "layer": [{"mark": {"type": "rect", "fill": "#fff", "stroke": "#909090", "strokeWidth": 1}},
               {"mark": {"type": "text", "font": "Liberation Serif", "fontWeight": "bold", "fontSize": 14.3, "color": "#000"}, "encoding": {"text": {"field": "kmer"}}}]},
    {"width": 142, "height": 277, "data": {"name": "k8"}, "transform": [{"filter": "datum.protein === 'L'"}],
     "encoding": {"y": {"field": "rank", "type": "ordinal", "axis": null, "scale": {"type": "band", "paddingInner": 0.1, "paddingOuter": 0}}},
     "layer": [{"mark": {"type": "rect", "fill": "#fff", "stroke": "#909090", "strokeWidth": 1}},
               {"mark": {"type": "text", "font": "Liberation Mono", "fontSize": 16.5, "align": "right", "dx": -2, "color": "#000"}, "encoding": {"text": {"field": "z"}, "x": {"value": "width"}}}]}
   ], "spacing": 2}
  ], "spacing": 2}
 ], "spacing": 70},
 {"hconcat": [
  {"width": 47, "height": 39, "data": {"values": [{"panel": "D"}]}, "mark": {"type": "text", "font": "Liberation Sans", "fontWeight": "bold", "fontSize": 34, "baseline": "bottom", "color": "#000"}, "encoding": {"text": {"field": "panel"}, "y": {"value": "height"}}},
  {"vconcat": [
   {"width": 254, "height": 15.5, "data": {"values": []}, "mark": "rect", "encoding": {}},
   {"width": 254, "height": 27, "view": {"fill": "#fff", "stroke": "#909090"}, "data": {"values": [{"h": "HnRNP LL"}]}, "mark": {"type": "text", "font": "Liberation Serif", "fontWeight": "bold", "fontSize": 19, "color": "#000"}, "encoding": {"text": {"field": "h"}}},
   {"hconcat": [
    {"width": 107, "height": 28, "view": {"fill": "#fff", "stroke": "#909090"}, "data": {"values": [{"h": "8mer"}]}, "mark": {"type": "text", "font": "Liberation Serif", "fontWeight": "bold", "fontSize": 19, "color": "#000"}, "encoding": {"text": {"field": "h"}}},
    {"width": 144, "height": 28, "view": {"fill": "#fff", "stroke": "#909090"}, "data": {"values": [{"h": "Z-score"}]}, "mark": {"type": "text", "font": "Liberation Serif", "fontWeight": "bold", "fontSize": 19, "color": "#000"}, "encoding": {"text": {"field": "h"}}}
   ], "spacing": 2},
   {"hconcat": [
    {"width": 107, "height": 277, "data": {"name": "k8"}, "transform": [{"filter": "datum.protein === 'LL'"}],
     "encoding": {"y": {"field": "rank", "type": "ordinal", "axis": null, "scale": {"type": "band", "paddingInner": 0.1, "paddingOuter": 0}}},
     "layer": [{"mark": {"type": "rect", "fill": "#fff", "stroke": "#909090", "strokeWidth": 1}},
               {"mark": {"type": "text", "font": "Liberation Serif", "fontWeight": "bold", "fontSize": 14.3, "color": "#000"}, "encoding": {"text": {"field": "kmer"}}}]},
    {"width": 144, "height": 277, "data": {"name": "k8"}, "transform": [{"filter": "datum.protein === 'LL'"}],
     "encoding": {"y": {"field": "rank", "type": "ordinal", "axis": null, "scale": {"type": "band", "paddingInner": 0.1, "paddingOuter": 0}}},
     "layer": [{"mark": {"type": "rect", "fill": "#fff", "stroke": "#909090", "strokeWidth": 1}},
               {"mark": {"type": "text", "font": "Liberation Mono", "fontSize": 16.5, "align": "right", "dx": -2, "color": "#000"}, "encoding": {"text": {"field": "z"}, "x": {"value": "width"}}}]}
   ], "spacing": 2}
  ], "spacing": 2}
 ], "spacing": 78}
], "spacing": 347.5}
],
"spacing": 89
}
